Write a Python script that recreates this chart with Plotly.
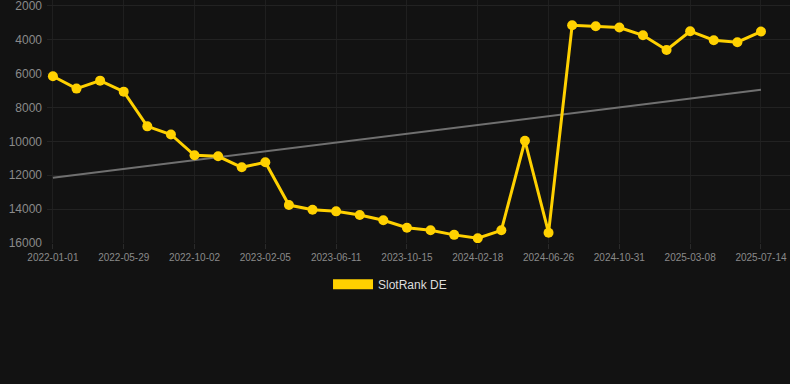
import numpy as np
import plotly.graph_objects as go

dates = [
    "2022-01-01", "2022-02-19", "2022-04-09", "2022-05-29", "2022-07-10", "2022-08-21",
    "2022-10-02", "2022-11-13", "2022-12-25", "2023-02-05", "2023-03-19", "2023-04-30",
    "2023-06-11", "2023-07-23", "2023-09-03", "2023-10-15", "2023-11-26", "2024-01-07",
    "2024-02-18", "2024-04-01", "2024-05-14", "2024-06-26", "2024-08-07", "2024-09-19",
    "2024-10-31", "2024-12-13", "2025-01-24", "2025-03-08", "2025-04-19", "2025-06-01",
    "2025-07-14",
]
rank = [
    6150, 6880, 6410, 7060, 9110, 9590,
    10820, 10880, 11530, 11230, 13760, 14040,
    14130, 14350, 14660, 15100, 15250, 15520,
    15720, 15250, 9960, 15390, 3140, 3200,
    3270, 3730, 4600, 3490, 4020, 4140,
    3510,
]
tick_labels = dates[::3]
y_ticks = [2000, 4000, 6000, 8000, 10000, 12000, 14000, 16000]
y_tick_text = [str(v) for v in y_ticks]
series_name = "SlotRank DE"

idx = np.arange(len(rank))
slope, intercept = np.polyfit(idx, rank, 1)
trend = slope * idx + intercept

GOLD = "#FFD100"
fig = go.Figure()
fig.add_trace(go.Scatter(
    x=dates, y=trend, mode="lines",
    line=dict(color="#707070", width=2),
    showlegend=False, hoverinfo="skip",
))
fig.add_trace(go.Scatter(
    x=dates, y=rank, mode="lines+markers",
    line=dict(color=GOLD, width=3),
    marker=dict(color=GOLD, size=10),
    name=series_name, showlegend=False,
))
fig.add_trace(go.Scatter(
    x=[None], y=[None], mode="lines",
    line=dict(color=GOLD, width=12),
    name=series_name, showlegend=True,
))

fig.update_layout(
    width=790, height=384,
    margin=dict(l=47, r=0, t=0, b=141),
    paper_bgcolor="#121212", plot_bgcolor="#121212",
    font=dict(family="Liberation Sans, Arial, sans-serif", color="#8a8a8a"),
    legend=dict(
        orientation="h", xref="container", yref="container",
        x=0.4937, xanchor="center", y=0.26, yanchor="middle",
        font=dict(size=12, color="#dddddd"), itemwidth=40,
        bgcolor="rgba(0,0,0,0)",
    ),
    xaxis=dict(
        type="category", categoryorder="array", categoryarray=dates,
        tickvals=tick_labels, ticktext=tick_labels,
        range=[-0.25, 31.23],
        showgrid=True, gridcolor="#1f1f1f", gridwidth=1,
        zeroline=False, showline=False,
        ticks="outside", ticklen=5, tickcolor="#2a2a2a",
        tickfont=dict(size=10, color="#8a8a8a"),
    ),
    yaxis=dict(
        range=[16000, 1646], tickvals=y_ticks, ticktext=y_tick_text,
        showgrid=True, gridcolor="#222222", gridwidth=1,
        zeroline=False, showline=False,
        tickfont=dict(size=12, color="#8a8a8a"),
        ticklabelstandoff=4, ticklabeloverflow="allow",
    ),
)

fig.write_html("out.html", config={"displayModeBar": False})
with open("out.html", "r", encoding="utf-8") as f:
    html = f.read()
html = html.replace("<head>", "<head><style>html,body{margin:0;padding:0;background:#121212;}</style>", 1)
with open("out.html", "w", encoding="utf-8") as f:
    f.write(html)
